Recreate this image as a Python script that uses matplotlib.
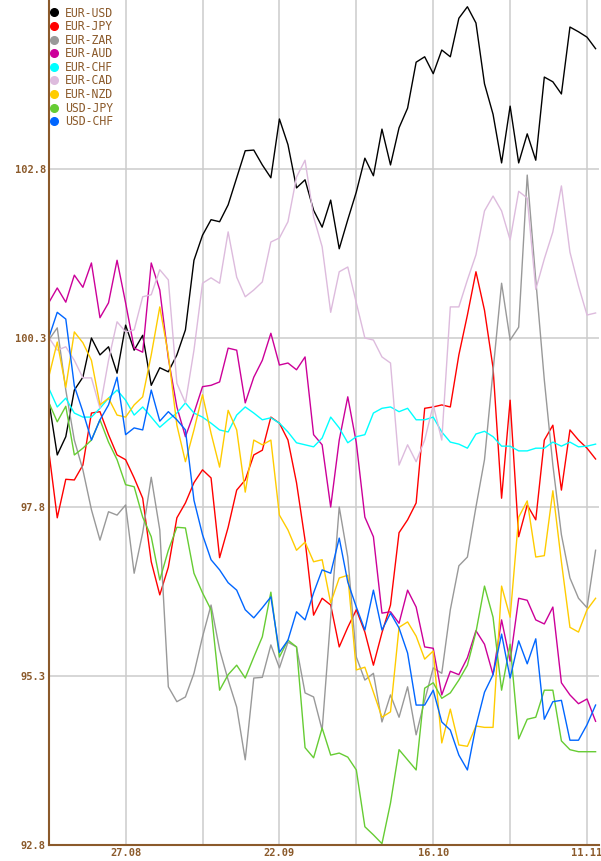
import numpy as np
import pandas as pd
import matplotlib
matplotlib.use("Agg")
import matplotlib.pyplot as plt
from matplotlib.lines import Line2D

# fechas (días hábiles)
dates = pd.bdate_range("2025-08-14", periods=65)

eur_usd = [99.38, 98.57, 98.84, 99.53, 99.72, 100.30, 100.05, 100.17, 99.78, 100.49,
           100.12, 100.34, 99.60, 99.86, 99.80, 100.05, 100.42, 101.45, 101.82,
           102.05, 102.02, 102.27, 102.67, 103.07, 103.08, 102.86, 102.67, 103.54,
           103.16, 102.52, 102.64, 102.19, 101.94, 102.34, 101.62, 102.05, 102.46,
           102.96, 102.70, 103.39, 102.86, 103.41, 103.70, 104.38, 104.46, 104.21,
           104.56, 104.46, 105.03, 105.20, 104.96, 104.06, 103.61, 102.89, 103.73,
           102.89, 103.32, 102.93, 104.16, 104.09, 103.91, 104.90, 104.83, 104.75,
           104.58]
eur_jpy = [98.64, 97.64, 98.21, 98.20, 98.42, 99.19, 99.21, 98.87, 98.57, 98.50,
           98.23, 97.93, 96.99, 96.50, 96.91, 97.64, 97.86, 98.16, 98.35,
           98.23, 97.05, 97.50, 98.05, 98.20, 98.57, 98.64, 99.13, 99.04,
           98.79, 98.16, 97.31, 96.20, 96.45, 96.35, 95.73, 96.02, 96.28,
           95.95, 95.46, 95.94, 96.35, 97.42, 97.61, 97.86, 99.26, 99.28,
           99.31, 99.28, 100.05, 100.64, 101.28, 100.71, 99.86, 97.93, 99.38,
           97.36, 97.83, 97.61, 98.79, 99.01, 98.05, 98.94, 98.79, 98.67,
           98.51]
eur_zar = [100.27, 100.45, 99.53, 98.79, 98.35, 97.76, 97.31, 97.73, 97.68, 97.83,
           96.82, 97.42, 98.24, 97.46, 95.14, 94.92, 94.99, 95.34, 95.88,
           96.35, 95.69, 95.24, 94.84, 94.06, 95.27, 95.28, 95.76, 95.42,
           95.80, 95.73, 95.05, 94.99, 94.50, 96.17, 97.80, 97.06, 95.58,
           95.24, 95.34, 94.62, 95.02, 94.69, 95.14, 94.43, 94.94, 95.42,
           95.34, 96.28, 96.93, 97.06, 97.80, 98.50, 99.81, 101.11, 100.27,
           100.46, 102.71, 101.16, 99.68, 98.42, 97.39, 96.75, 96.45, 96.31,
           97.16]
eur_aud = [100.82, 101.04, 100.83, 101.23, 101.05, 101.41, 100.60, 100.82, 101.45, 100.82,
           100.15, 100.09, 101.41, 101.01, 100.00, 99.28, 98.84, 99.19, 99.58,
           99.60, 99.65, 100.15, 100.12, 99.34, 99.72, 99.97, 100.37, 99.90,
           99.93, 99.83, 100.02, 98.87, 98.72, 97.80, 98.79, 99.43, 98.75,
           97.65, 97.36, 96.23, 96.25, 96.08, 96.57, 96.32, 95.73, 95.71,
           95.02, 95.37, 95.32, 95.57, 95.97, 95.77, 95.32, 96.13, 95.52,
           96.45, 96.42, 96.13, 96.07, 96.32, 95.20, 95.02, 94.89, 94.96,
           94.63]
eur_chf = [99.56, 99.28, 99.41, 99.19, 99.13, 99.13, 99.26, 99.41, 99.53, 99.38,
           99.16, 99.28, 99.13, 98.98, 99.09, 99.19, 99.34, 99.19, 99.13,
           99.04, 98.94, 98.91, 99.16, 99.28, 99.19, 99.09, 99.12, 99.04,
           98.91, 98.75, 98.72, 98.69, 98.82, 99.13, 98.97, 98.75, 98.84,
           98.87, 99.19, 99.26, 99.28, 99.21, 99.26, 99.09, 99.09, 99.13,
           98.91, 98.76, 98.73, 98.67, 98.88, 98.92, 98.84, 98.70, 98.70,
           98.63, 98.63, 98.67, 98.67, 98.76, 98.70, 98.76, 98.69, 98.70,
           98.73]
eur_cad = [100.31, 100.12, 100.17, 99.97, 99.71, 99.71, 99.26, 99.97, 100.54, 100.39,
           100.42, 100.91, 100.94, 101.31, 101.16, 99.63, 99.34, 100.12, 101.11,
           101.19, 101.11, 101.87, 101.20, 100.91, 101.01, 101.13, 101.72, 101.78,
           102.02, 102.68, 102.93, 102.09, 101.65, 100.68, 101.28, 101.35, 100.82,
           100.30, 100.27, 100.02, 99.93, 98.42, 98.72, 98.47, 98.79, 99.31,
           98.79, 100.76, 100.76, 101.16, 101.53, 102.18, 102.40, 102.18, 101.75,
           102.47, 102.37, 101.02, 101.47, 101.87, 102.55, 101.57, 101.07, 100.64,
           100.67]
eur_nzd = [99.72, 100.24, 99.57, 100.39, 100.23, 99.97, 99.31, 99.41, 99.16, 99.13,
           99.31, 99.43, 100.05, 100.76, 100.05, 99.01, 98.47, 98.94, 99.46,
           98.89, 98.39, 99.23, 98.94, 98.02, 98.79, 98.72, 98.79, 97.68,
           97.46, 97.16, 97.28, 96.99, 97.02, 96.38, 96.75, 96.79, 95.39,
           95.43, 95.06, 94.69, 94.77, 96.02, 96.10, 95.89, 95.55, 95.67,
           94.31, 94.81, 94.28, 94.26, 94.56, 94.54, 94.54, 96.63, 96.17,
           97.65, 97.89, 97.06, 97.08, 98.04, 96.99, 96.02, 95.95, 96.28,
           96.45]
usd_jpy = [99.35, 99.06, 99.29, 98.57, 98.67, 98.79, 99.09, 98.76, 98.50, 98.13,
           98.10, 97.65, 97.36, 96.72, 97.16, 97.50, 97.49, 96.82, 96.53,
           96.28, 95.09, 95.32, 95.46, 95.27, 95.58, 95.88, 96.54, 95.58,
           95.83, 95.73, 94.24, 94.09, 94.53, 94.13, 94.16, 94.10, 93.91,
           93.07, 92.95, 92.82, 93.42, 94.21, 94.06, 93.91, 95.12, 95.20,
           94.97, 95.05, 95.24, 95.46, 95.95, 96.63, 96.17, 95.09, 95.77,
           94.37, 94.66, 94.69, 95.09, 95.09, 94.34, 94.21, 94.18, 94.18,
           94.18]
usd_chf = [100.30, 100.68, 100.58, 99.59, 99.21, 98.79, 99.09, 99.31, 99.72, 98.87,
           98.97, 98.94, 99.53, 99.07, 99.21, 99.09, 98.94, 97.90, 97.39,
           97.02, 96.87, 96.68, 96.57, 96.28, 96.16, 96.31, 96.47, 95.65,
           95.83, 96.25, 96.13, 96.53, 96.87, 96.82, 97.34, 96.69, 96.32,
           95.98, 96.57, 95.98, 96.23, 96.01, 95.64, 94.87, 94.87, 95.09,
           94.62, 94.50, 94.13, 93.91, 94.56, 95.06, 95.32, 95.92, 95.27,
           95.82, 95.48, 95.85, 94.66, 94.92, 94.94, 94.35, 94.35, 94.58,
           94.87]

names = ["EUR-USD", "EUR-JPY", "EUR-ZAR", "EUR-AUD", "EUR-CHF",
         "EUR-CAD", "EUR-NZD", "USD-JPY", "USD-CHF"]
series = [eur_usd, eur_jpy, eur_zar, eur_aud, eur_chf,
          eur_cad, eur_nzd, usd_jpy, usd_chf]
colors = ["#000000", "#FF0000", "#999999", "#CC0099", "#00FFFF",
          "#DDBBDD", "#FFCC00", "#66CC33", "#0066FF"]

yticks = [92.8, 95.3, 97.8, 100.3, 102.8]
brown = "#8B5A2B"

fig = plt.figure(figsize=(6.01, 8.61), dpi=100)
ax = fig.add_axes([48.7 / 601, 16 / 861, 550.3 / 601, 845 / 861])

x = np.arange(len(dates))

# rejilla
for xi in range(9, len(dates), 9):
    ax.axvline(xi, color="#CCCCCC", lw=1.1, zorder=0)
for yv in yticks[1:]:
    ax.axhline(yv, color="#CCCCCC", lw=1.1, zorder=0)

for name, vals, c in zip(names, series, colors):
    ax.plot(x, vals, color=c, lw=1.0, label=name)

ax.set_xlim(0, 64.4)
ax.set_ylim(92.8, 105.3)

ax.set_yticks(yticks)
ax.set_yticklabels([f"{v:.1f}" for v in yticks])
lab_idx = [9, 27, 45, 63]
ax.set_xticks(lab_idx)
ax.set_xticklabels([dates[i].strftime("%d.%m") for i in lab_idx])
ax.tick_params(length=0, colors=brown, labelsize=7.5, pad=2)
for t in ax.get_xticklabels() + ax.get_yticklabels():
    t.set_family("DejaVu Sans Mono")
    t.set_fontweight("bold")

for s in ["top", "right"]:
    ax.spines[s].set_visible(False)
for s in ["left", "bottom"]:
    ax.spines[s].set_color(brown)
    ax.spines[s].set_linewidth(1.5)

# leyenda arriba a la izquierda
handles = [Line2D([], [], marker="o", ls="none", color=c, markersize=5.5)
           for c in colors]
leg = ax.legend(handles, names, loc="upper left", bbox_to_anchor=(0.0, 0.995),
                frameon=False, handlelength=0.6, handletextpad=0.6,
                labelspacing=0.05, borderaxespad=0.0, borderpad=0.2,
                prop={"family": "DejaVu Sans Mono", "size": 8.3})
for t in leg.get_texts():
    t.set_color(brown)

fig.savefig("out.png", dpi=100)
